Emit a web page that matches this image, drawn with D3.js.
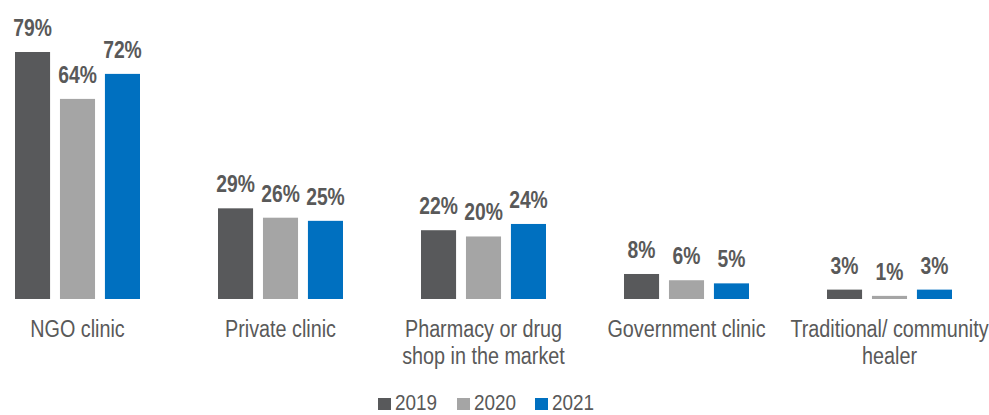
<!DOCTYPE html>
<html>
<head>
<meta charset="utf-8">
<script src="https://cdn.jsdelivr.net/npm/d3@7"></script>
<style>
  html, body { margin: 0; padding: 0; background: #ffffff; }
  svg { display: block; font-family: 'Liberation Sans', Arial, sans-serif; }
</style>
</head>
<body>
<svg id="chart" width="989" height="415"></svg>
<script>
// Where respondents sought care, share by year
const categories = [
  ["NGO clinic"],
  ["Private clinic"],
  ["Pharmacy or drug", "shop in the market"],
  ["Government clinic"],
  ["Traditional/ community", "healer"]
];
const years = ["2019", "2020", "2021"];
const values2019 = [79, 29, 22, 8, 3];
const values2020 = [64, 26, 20, 6, 1];
const values2021 = [72, 25, 24, 5, 3];
const seriesValues = [values2019, values2020, values2021];
const colors = ["#58595b", "#a5a5a5", "#0070c0"];

const svg = d3.select("#chart");
const textColor = "#595959";
// horizontal squeeze that gives the narrow typeface look
const narrow = 0.86;
const narrowBold = 0.84;

const x0 = d3.scaleBand()
  .domain(d3.range(categories.length))
  .range([-24, 991]);

const groupWidth = 125;
const x1 = d3.scaleBand()
  .domain(years)
  .range([0, groupWidth])
  .paddingInner(0.22);

const y = d3.scaleLinear()
  .domain([0, 79])
  .range([299, 52]);

const rows = categories.map((c, i) => ({
  index: i,
  lines: c,
  vals: years.map((yr, k) => ({ year: yr, k: k, v: seriesValues[k][i] }))
}));

const groups = svg.selectAll("g.group")
  .data(rows)
  .join("g")
  .attr("class", "group")
  .attr("transform", d => `translate(${x0(d.index) + (x0.bandwidth() - groupWidth) / 2},0)`);

groups.selectAll("rect")
  .data(d => d.vals)
  .join("rect")
  .attr("x", d => x1(d.year))
  .attr("y", d => y(d.v))
  .attr("width", x1.bandwidth())
  .attr("height", d => y(0) - y(d.v))
  .attr("fill", d => colors[d.k]);

groups.selectAll("text.value")
  .data(d => d.vals)
  .join("text")
  .attr("class", "value")
  .attr("transform", d => `translate(${x1(d.year) + x1.bandwidth() / 2},${y(d.v) - 16}) scale(${narrowBold},1)`)
  .attr("text-anchor", "middle")
  .attr("font-size", 23)
  .attr("font-weight", "bold")
  .attr("fill", textColor)
  .text(d => d.v + "%");

// Category axis labels
groups.each(function(d) {
  const t = d3.select(this).append("text")
    .attr("transform", `translate(${groupWidth / 2},337) scale(${narrow},1)`)
    .attr("text-anchor", "middle")
    .attr("font-size", 23)
    .attr("fill", textColor);
  d.lines.forEach((line, j) => {
    t.append("tspan")
      .attr("x", 0)
      .attr("y", j * 27)
      .text(line);
  });
});

// Legend
const legendX = [378, 457, 535];
const legend = svg.selectAll("g.legend")
  .data(years)
  .join("g")
  .attr("class", "legend")
  .attr("transform", (d, i) => `translate(${legendX[i]},0)`);

legend.append("rect")
  .attr("x", 0)
  .attr("y", 398)
  .attr("width", 13)
  .attr("height", 12)
  .attr("fill", (d, i) => colors[i]);

legend.append("text")
  .attr("transform", "translate(17,410) scale(" + narrow + ",1)")
  .attr("font-size", 22)
  .attr("fill", textColor)
  .text(d => d);
</script>
</body>
</html>
